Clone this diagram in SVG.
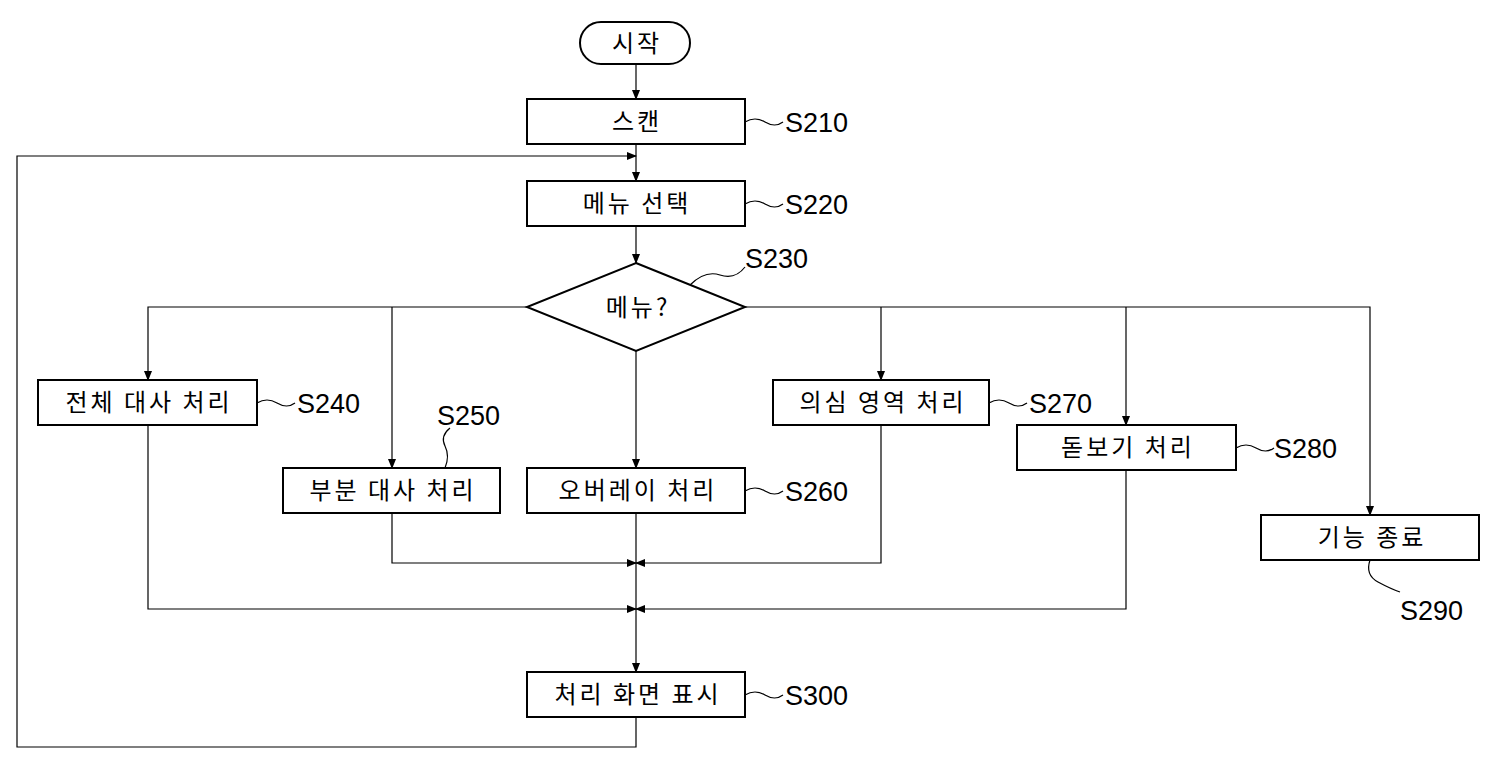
<svg xmlns="http://www.w3.org/2000/svg" width="1500" height="770" viewBox="0 0 1500 770">
<defs>
<marker id="a" markerWidth="10" markerHeight="8" refX="9" refY="4" orient="auto" markerUnits="userSpaceOnUse"><path d="M0,0 L10,4 L0,8 Z" fill="#000"/></marker>
<style>
.b{fill:#fff;stroke:#000;stroke-width:2}
.t{font-family:"Noto Sans CJK KR","Liberation Sans",sans-serif;font-size:24px;letter-spacing:3px;text-anchor:middle;fill:#000}
.l{font-family:"Liberation Sans",sans-serif;font-size:27px;fill:#000}
.c{fill:none;stroke:#000;stroke-width:1.2}
.w{fill:none;stroke:#000;stroke-width:1.2}
</style>
</defs>
<rect width="1500" height="770" fill="#fff"/>
<g id="connectors">
<path class="c" d="M636,64 V99" marker-end="url(#a)"/>
<path class="c" d="M636,144 V181" marker-end="url(#a)"/>
<path class="c" d="M636,716 V747 H17 V156 H636" marker-end="url(#a)"/>
<path class="c" d="M636,226 V263" marker-end="url(#a)"/>
<path class="c" d="M527,307 H148 V380" marker-end="url(#a)"/>
<path class="c" d="M392,307 V468" marker-end="url(#a)"/>
<path class="c" d="M636,351 V468" marker-end="url(#a)"/>
<path class="c" d="M745,307 H1370 V515" marker-end="url(#a)"/>
<path class="c" d="M881,307 V380" marker-end="url(#a)"/>
<path class="c" d="M1126,307 V425" marker-end="url(#a)"/>
<path class="c" d="M392,513 V563 H636" marker-end="url(#a)"/>
<path class="c" d="M881,425 V563 H636" marker-end="url(#a)"/>
<path class="c" d="M148,425 V609 H636" marker-end="url(#a)"/>
<path class="c" d="M1126,470 V609 H636" marker-end="url(#a)"/>
<path class="c" d="M636,513 V672" marker-end="url(#a)"/>
</g>
<g id="start"><rect class="b" x="580" y="22" width="110" height="42" rx="21"/><text class="t" x="637" y="52">시작</text></g>
<g id="S210"><rect class="b" x="527" y="99" width="218" height="45"/><text class="t" x="637" y="130">스캔</text><path class="w" d="M745,122 q10,-6 20,0 t18,0"/><text class="l" x="785" y="132">S210</text></g>
<g id="S220"><rect class="b" x="527" y="181" width="218" height="45"/><text class="t" x="637" y="212">메뉴 선택</text><path class="w" d="M745,204 q10,-6 20,0 t18,0"/><text class="l" x="785" y="214">S220</text></g>
<g id="S230"><path class="b" d="M636,263 L745,307 L636,351 L527,307 Z"/><text class="t" x="638" y="316">메뉴?</text><path class="w" d="M690,285 q15,-15 30,-10 t25,-8"/><text class="l" x="745" y="268">S230</text></g>
<g id="S240"><rect class="b" x="38" y="380" width="219" height="45"/><text class="t" x="149" y="411">전체 대사 처리</text><path class="w" d="M257,403 q10,-6 20,0 t18,0"/><text class="l" x="297" y="413">S240</text></g>
<g id="S250"><rect class="b" x="283" y="468" width="217" height="45"/><text class="t" x="393" y="499">부분 대사 처리</text><path class="w" d="M445,468 q5,-12 0,-22 t5,-18"/><text class="l" x="437" y="425">S250</text></g>
<g id="S260"><rect class="b" x="527" y="468" width="218" height="45"/><text class="t" x="638" y="499">오버레이 처리</text><path class="w" d="M745,491 q10,-6 20,0 t18,0"/><text class="l" x="785" y="501">S260</text></g>
<g id="S270"><rect class="b" x="773" y="380" width="216" height="45"/><text class="t" x="883" y="411">의심 영역 처리</text><path class="w" d="M989,403 q10,-6 20,0 t18,0"/><text class="l" x="1029" y="413">S270</text></g>
<g id="S280"><rect class="b" x="1017" y="425" width="219" height="45"/><text class="t" x="1128" y="456">돋보기 처리</text><path class="w" d="M1236,448 q10,-6 20,0 t18,0"/><text class="l" x="1274" y="458">S280</text></g>
<g id="S290"><rect class="b" x="1261" y="515" width="218" height="45"/><text class="t" x="1372" y="546">기능 종료</text><path class="w" d="M1370,560 q-5,15 8,22 t22,10"/><text class="l" x="1400" y="620">S290</text></g>
<g id="S300"><rect class="b" x="527" y="672" width="218" height="45"/><text class="t" x="638" y="703">처리 화면 표시</text><path class="w" d="M745,695 q10,-6 20,0 t18,0"/><text class="l" x="785" y="705">S300</text></g>
</svg>
